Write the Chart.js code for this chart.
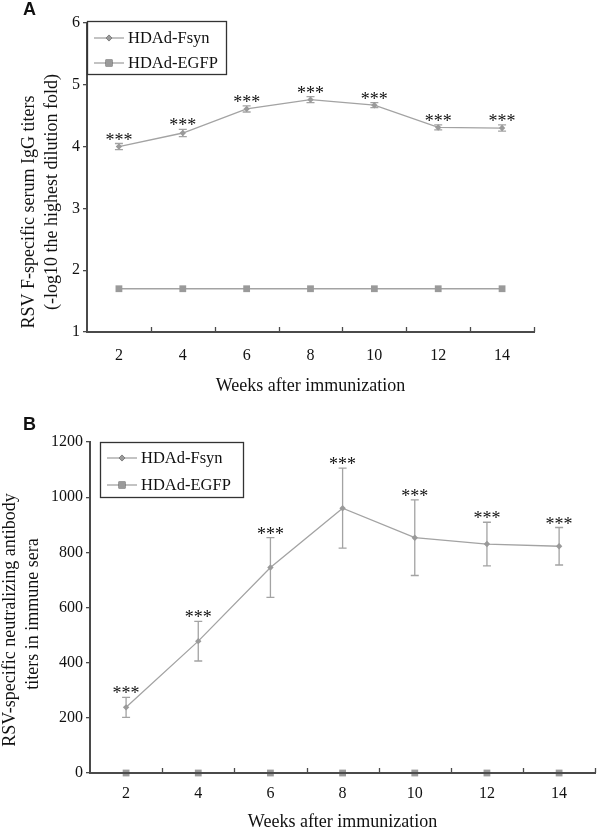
<!DOCTYPE html>
<html>
<head>
<meta charset="utf-8">
<script src="https://cdn.jsdelivr.net/npm/chart.js@4.4.0/dist/chart.umd.min.js"></script>
<style>
  html, body { margin: 0; padding: 0; background: #fff; }
  #wrap { position: relative; width: 600px; height: 830px; }
  .box { position: absolute; left: 0; width: 600px; }
</style>
</head>
<body>
<div id="wrap">
  <div class="box" style="top:0;height:400px;"><canvas id="cA" width="600" height="400"></canvas></div>
  <div class="box" style="top:400px;height:430px;"><canvas id="cB" width="600" height="430"></canvas></div>
</div>
<script>
// ---------- data ----------
const weeks = [2, 4, 6, 8, 10, 12, 14];
const xTickMarks = [3, 5, 7, 9, 11, 13, 15];
const seriesNames = ['HDAd-Fsyn', 'HDAd-EGFP'];
const significance = ['***', '***', '***', '***', '***', '***', '***'];

// Panel A: IgG titers
const iggFsyn = [4.00, 4.22, 4.61, 4.76, 4.67, 4.31, 4.30];
const iggFsynErr = [0.05, 0.06, 0.05, 0.05, 0.04, 0.04, 0.05];
const iggEgfp = [1.70, 1.70, 1.70, 1.70, 1.70, 1.70, 1.70];
const yTicksA = [1, 2, 3, 4, 5, 6];

// Panel B: neutralizing antibody titers
const neutFsyn = [238, 478, 745, 960, 853, 830, 822];
const neutFsynErr = [36, 72, 108, 145, 137, 79, 68];
const neutEgfp = [0, 0, 0, 0, 0, 0, 0];
const yTicksB = [0, 200, 400, 600, 800, 1000, 1200];

// ---------- style ----------
const SERIF = '"Liberation Serif", "Times New Roman", serif';
const LINE = '#a3a3a3';
const MARK = '#9a9a9a';
const AXIS = '#4a4a4a';
const TEXT = '#111';

const pts = (xs, ys) => xs.map((x, i) => ({ x: x, y: ys[i] }));

const extrasPlugin = {
  id: 'extras',
  beforeDatasetsDraw(chart) {
    const o = chart.options.plugins.extras;
    const ctx = chart.ctx, xs = chart.scales.x, ys = chart.scales.y;
    ctx.save();
    ctx.strokeStyle = LINE;
    ctx.lineWidth = 1.3;
    o.means.forEach((m, i) => {
      const px = xs.getPixelForValue(weeks[i]);
      const top = ys.getPixelForValue(m + o.errs[i]);
      const bot = ys.getPixelForValue(m - o.errs[i]);
      ctx.beginPath();
      ctx.moveTo(px, top); ctx.lineTo(px, bot);
      ctx.moveTo(px - 4, top); ctx.lineTo(px + 4, top);
      ctx.moveTo(px - 4, bot); ctx.lineTo(px + 4, bot);
      ctx.stroke();
    });
    ctx.restore();
  },
  afterDatasetsDraw(chart) {
    const o = chart.options.plugins.extras;
    const ctx = chart.ctx, xs = chart.scales.x, ys = chart.scales.y;
    const ca = chart.chartArea;
    ctx.save();
    // inward x tick marks
    ctx.strokeStyle = AXIS;
    ctx.lineWidth = 1.3;
    xTickMarks.forEach(v => {
      const px = Math.round(xs.getPixelForValue(v)) + 0.5;
      ctx.beginPath();
      ctx.moveTo(px, ca.bottom);
      ctx.lineTo(px, ca.bottom - 5);
      ctx.stroke();
    });
    // significance marks
    ctx.fillStyle = TEXT;
    ctx.font = '18px ' + SERIF;
    ctx.textAlign = 'center';
    ctx.textBaseline = 'alphabetic';
    o.means.forEach((m, i) => {
      const px = xs.getPixelForValue(weeks[i]);
      const top = ys.getPixelForValue(m + o.errs[i]);
      ctx.fillText(significance[i], px, top + 2);
    });
    // legend
    const lg = o.legend;
    const lx = ca.left + lg.dx, ly = lg.top;
    ctx.strokeStyle = '#333';
    ctx.lineWidth = 1.3;
    ctx.strokeRect(lx + 0.5, ly + 0.5, lg.w, lg.h);
    chart.data.datasets.forEach((ds, i) => {
      const cy = ly + lg.row0 + i * lg.rowGap;
      ctx.strokeStyle = LINE;
      ctx.lineWidth = 1.3;
      ctx.beginPath();
      ctx.moveTo(lx + 7, cy); ctx.lineTo(lx + 37, cy);
      ctx.stroke();
      Chart.helpers.drawPoint(ctx, { pointStyle: ds.pointStyle, radius: ds.pointRadius, borderWidth: 0 }, lx + 22, cy);
      ctx.fillStyle = MARK;
      ctx.fill();
      ctx.fillStyle = TEXT;
      ctx.font = '16.5px ' + SERIF;
      ctx.textAlign = 'left';
      ctx.textBaseline = 'middle';
      ctx.fillText(ds.label, lx + 41, cy + 1);
    });
    // axis titles
    ctx.fillStyle = TEXT;
    ctx.font = '18px ' + SERIF;
    ctx.textAlign = 'center';
    ctx.textBaseline = 'middle';
    ctx.fillText(o.xTitle, (ca.left + ca.right) / 2, o.xTitleY);
    o.yTitle.forEach((t, i) => {
      ctx.save();
      ctx.translate(o.yTitleX[i], o.yTitleY[i]);
      ctx.rotate(-Math.PI / 2);
      ctx.fillText(t, 0, 0);
      ctx.restore();
    });
    // panel letter
    ctx.font = 'bold 18px "Liberation Sans", Arial, sans-serif';
    ctx.textAlign = 'left';
    ctx.textBaseline = 'middle';
    ctx.fillText(o.letter, 23, o.letterY);
    ctx.restore();
  }
};

function makeChart(id, cfg) {
  return new Chart(document.getElementById(id), {
    type: 'line',
    data: {
      datasets: [
        {
          label: seriesNames[0], data: pts(weeks, cfg.fsyn), clip: false,
          borderColor: LINE, borderWidth: 1.3, pointStyle: 'rectRot', pointRadius: 3.2,
          pointBackgroundColor: MARK, pointBorderWidth: 0, tension: 0
        },
        {
          label: seriesNames[1], data: pts(weeks, cfg.egfp), clip: false,
          borderColor: LINE, borderWidth: 1.3, pointStyle: 'rect', pointRadius: 4.8,
          pointBackgroundColor: MARK, pointBorderWidth: 0, tension: 0
        }
      ]
    },
    options: {
      responsive: false, animation: false, devicePixelRatio: 1,
      layout: { padding: { top: cfg.top, right: cfg.right, left: 0, bottom: 0 } },
      plugins: {
        legend: { display: false }, tooltip: { enabled: false },
        extras: {
          means: cfg.fsyn, errs: cfg.err, legend: cfg.legend,
          xTitle: 'Weeks after immunization', xTitleY: cfg.xTitleY,
          yTitle: cfg.yTitle, yTitleX: cfg.yTitleX, yTitleY: cfg.yTitleY,
          letter: cfg.letter, letterY: cfg.letterY
        }
      },
      scales: {
        x: {
          type: 'linear', min: 1, max: 15,
          afterBuildTicks: s => { s.ticks = weeks.map(v => ({ value: v })); },
          afterFit: s => { s.height = cfg.xHeight; },
          grid: { display: true, drawOnChartArea: false, drawTicks: false },
          border: { display: true, color: AXIS, width: 2, z: 1 },
          ticks: { font: { family: SERIF, size: 16 }, color: TEXT, padding: cfg.xPad, maxRotation: 0,
                   callback: v => String(v) }
        },
        y: {
          min: cfg.ymin, max: cfg.ymax,
          afterBuildTicks: s => { s.ticks = cfg.yTicks.map(v => ({ value: v })); },
          afterFit: s => { s.width = cfg.yWidth; },
          grid: { display: true, drawOnChartArea: false, drawTicks: true, tickLength: 4, color: AXIS, lineWidth: 1.3 },
          border: { display: true, color: AXIS, width: 2 },
          ticks: { font: { family: SERIF, size: 16 }, color: TEXT, padding: 3,
                   callback: v => String(v) }
        }
      }
    },
    plugins: [extrasPlugin]
  });
}

makeChart('cA', {
  fsyn: iggFsyn, err: iggFsynErr, egfp: iggEgfp, ymin: 1, ymax: 6, yTicks: yTicksA,
  top: 23, right: 66, xHeight: 68, yWidth: 87, xPad: 14,
  legend: { dx: 0, top: 21, w: 139, h: 53, row0: 17, rowGap: 25 },
  xTitleY: 386, yTitle: ['RSV F-specific serum IgG titers', '(-log10 the highest dilution fold)'],
  yTitleX: [29, 52], yTitleY: [212, 192], letter: 'A', letterY: 10
});

makeChart('cB', {
  fsyn: neutFsyn, err: neutFsynErr, egfp: neutEgfp, ymin: 0, ymax: 1200, yTicks: yTicksB,
  top: 42, right: 2, xHeight: 57, yWidth: 90, xPad: 11,
  legend: { dx: 10, top: 42, w: 143, h: 55, row0: 16, rowGap: 27 },
  xTitleY: 422, yTitle: ['RSV-specific neutralizing antibody', 'titers in immune sera'],
  yTitleX: [10, 33], yTitleY: [220, 214], letter: 'B', letterY: 25
});
</script>
</body>
</html>
